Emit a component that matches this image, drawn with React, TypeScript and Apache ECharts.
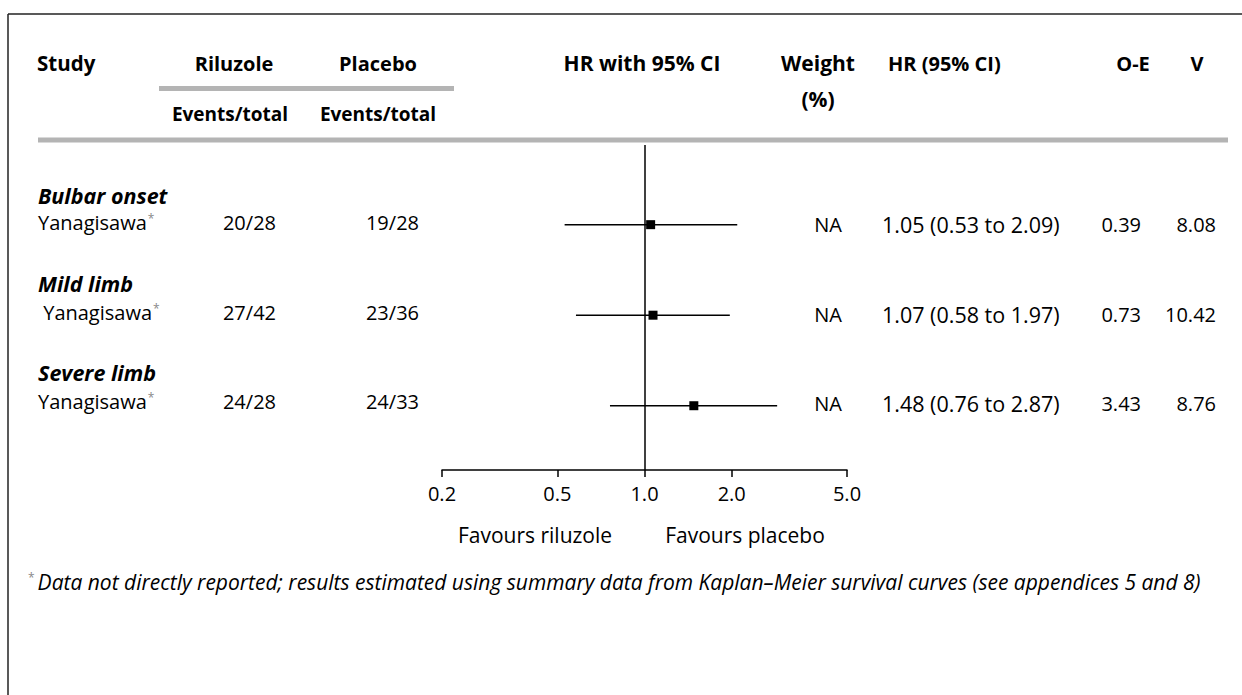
import React, { useEffect, useRef } from "react";
import * as echarts from "echarts";

// Subgroup forest plot: riluzole vs placebo (Yanagisawa)
const groups = ["Bulbar onset", "Mild limb", "Severe limb"];
const studies = ["Yanagisawa", " Yanagisawa", "Yanagisawa"];
const riluzoleEvents = ["20/28", "27/42", "24/28"];
const placeboEvents = ["19/28", "23/36", "24/33"];
const hr = [1.05, 1.07, 1.48];
const ciLow = [0.53, 0.58, 0.76];
const ciHigh = [2.09, 1.97, 2.87];
const weights = ["NA", "NA", "NA"];
const oMinusE = [0.39, 0.73, 3.43];
const variance = [8.08, 10.42, 8.76];
const axisTicks = [0.2, 0.5, 1.0, 2.0, 5.0];
const footnote =
  "Data not directly reported; results estimated using summary data from Kaplan\u2013Meier survival curves (see appendices 5 and 8)";

const FONT = "'Open Sans', 'Noto Sans', sans-serif";
const INK = "#000";
const RULE = "#b4b4b4";

const lg = (v: number) => Math.log10(v);

function txt(
  text: string,
  x: number,
  y: number,
  opts: { align?: string; size?: number; weight?: string; italic?: boolean; rich?: any; fill?: string } = {}
) {
  const align = opts.align || "left";
  return {
    type: "text",
    x,
    y,
    silent: true,
    style: {
      text,
      fill: opts.fill || INK,
      fontFamily: FONT,
      fontSize: opts.size || 20,
      fontWeight: opts.weight || "normal",
      fontStyle: opts.italic ? "italic" : "normal",
      align,
      textAlign: align,
      verticalAlign: "middle",
      textVerticalAlign: "middle",
      rich: opts.rich,
    },
  };
}

export default function App() {
  const ref = useRef<HTMLDivElement>(null);

  useEffect(() => {
    document.body.style.margin = "0";
    if (!ref.current) return;
    const chart = echarts.init(ref.current, undefined, { renderer: "svg" });

    const supRich = {
      s: { fontSize: 12, fill: "#888", fontFamily: FONT, verticalAlign: "top", padding: [0, 0, 0, 1] },
    };

    const rowTextY = [222, 312, 401];
    const groupY = [195, 283, 372];
    const B = "bold";

    const elements: any[] = [
      // frame
      { type: "line", silent: true, shape: { x1: 8, y1: 14, x2: 1242, y2: 14 }, style: { stroke: "#222", lineWidth: 1.5 } },
      { type: "line", silent: true, shape: { x1: 8, y1: 14, x2: 8, y2: 695 }, style: { stroke: "#222", lineWidth: 1.5 } },
      // header rules
      { type: "rect", silent: true, shape: { x: 159, y: 86, width: 295, height: 5 }, style: { fill: RULE } },
      { type: "rect", silent: true, shape: { x: 38, y: 137.5, width: 1190, height: 5 }, style: { fill: RULE } },
      // header texts
      txt("Study", 37, 63, { weight: B, size: 20.5 }),
      txt("Riluzole", 234, 63, { weight: B, size: 20, align: "center" }),
      txt("Placebo", 378, 63, { weight: B, size: 20, align: "center" }),
      txt("Events/total", 230, 114, { weight: B, size: 19, align: "center" }),
      txt("Events/total", 378, 114, { weight: B, size: 19, align: "center" }),
      txt("HR with 95% CI", 642, 63, { weight: B, size: 21, align: "center" }),
      txt("Weight", 818, 63, { weight: B, size: 21, align: "center" }),
      txt("(%)", 818, 99, { weight: B, size: 21, align: "center" }),
      txt("HR (95% CI)", 888, 63, { weight: B, size: 20 }),
      txt("O-E", 1133, 63, { weight: B, size: 20, align: "center" }),
      txt("V", 1197, 63, { weight: B, size: 20, align: "center" }),
      // direction labels
      txt("Favours riluzole", 535, 535, { align: "center", size: 21 }),
      txt("Favours placebo", 745, 535, { align: "center", size: 21 }),
      // footnote
      txt("{s|*}{t|" + footnote + "}", 28, 582, {
        italic: true,
        size: 21,
        rich: {
          s: { fontSize: 12, fill: "#888", fontFamily: FONT, verticalAlign: "top", padding: [0, 3, 0, 0] },
          t: { fontSize: 21, fontStyle: "italic", fill: INK, fontFamily: FONT },
        },
      }),
    ];

    groups.forEach((g, i) => {
      const y = rowTextY[i];
      elements.push(txt(g, 38, groupY[i], { weight: B, italic: true, size: 21.5 }));
      elements.push(txt(studies[i] + "{s|*}", 38, y, { rich: supRich }));
      elements.push(txt(riluzoleEvents[i], 276, y, { align: "right" }));
      elements.push(txt(placeboEvents[i], 419, y, { align: "right" }));
      elements.push(txt(weights[i], 842, y + 2, { align: "right" }));
      elements.push(
        txt(`${hr[i].toFixed(2)} (${ciLow[i].toFixed(2)} to ${ciHigh[i].toFixed(2)})`, 882, y + 2, { size: 21.5 })
      );
      elements.push(txt(oMinusE[i].toFixed(2), 1141, y + 2, { align: "right" }));
      elements.push(txt(variance[i].toFixed(2), 1216, y + 2, { align: "right" }));
    });

    const forestData = hr.map((v, i) => [lg(v), lg(ciLow[i]), lg(ciHigh[i]), i + 1]);
    const tickPositions = axisTicks.map(lg);

    chart.setOption({
      animation: false,
      grid: { left: 442, right: 1242 - 847, top: 145, bottom: 695 - 470, containLabel: false },
      xAxis: {
        type: "value",
        min: lg(axisTicks[0]),
        max: lg(axisTicks[axisTicks.length - 1]),
        axisLine: { show: true, lineStyle: { color: INK, width: 1.5 } },
        axisTick: { show: true, customValues: tickPositions, length: 7, lineStyle: { color: INK, width: 1.5 } },
        axisLabel: {
          customValues: tickPositions,
          formatter: (v: number) => Math.pow(10, v).toFixed(1),
          color: INK,
          fontFamily: FONT,
          fontSize: 20,
          margin: 13,
        },
        splitLine: { show: false },
      },
      yAxis: {
        type: "value",
        inverse: true,
        min: 0.12,
        max: 3.71,
        show: false,
        splitLine: { show: false },
      },
      series: [
        {
          type: "custom",
          data: forestData,
          encode: { x: [0, 1, 2], y: 3 },
          renderItem: (params: any, api: any) => {
            const row = api.value(3);
            const c = api.coord([api.value(0), row]);
            const lo = api.coord([api.value(1), row]);
            const hi = api.coord([api.value(2), row]);
            const s = 9;
            return {
              type: "group",
              children: [
                {
                  type: "line",
                  shape: { x1: lo[0], y1: lo[1], x2: hi[0], y2: hi[1] },
                  style: { stroke: INK, lineWidth: 1.5 },
                },
                {
                  type: "rect",
                  shape: { x: c[0] - s / 2, y: c[1] - s / 2, width: s, height: s },
                  style: { fill: "#000" },
                },
              ],
            };
          },
          z: 3,
        },
        {
          type: "scatter",
          data: forestData.map((d) => [d[0], d[3]]),
          symbolSize: 0,
          silent: true,
          markLine: {
            silent: true,
            symbol: "none",
            label: { show: false },
            lineStyle: { color: INK, width: 1.5, type: "solid" },
            data: [{ xAxis: lg(1) }],
          },
        },
      ],
      graphic: { elements },
    });

    return () => chart.dispose();
  }, []);

  return <div ref={ref} style={{ width: 1242, height: 695 }} />;
}
